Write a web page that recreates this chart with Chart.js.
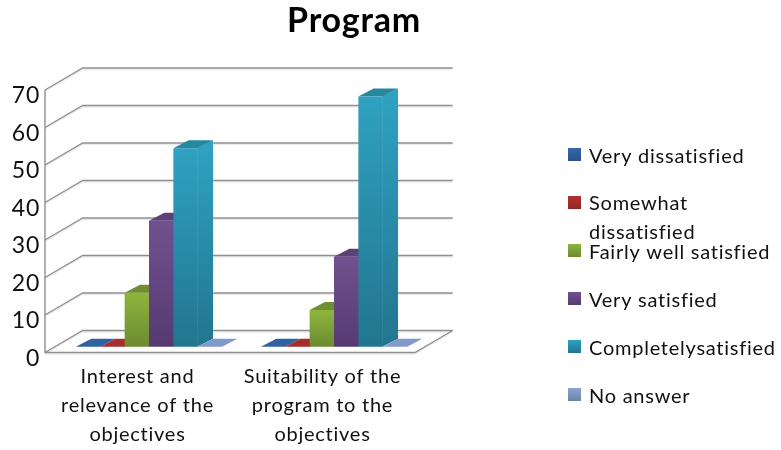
<!DOCTYPE html>
<html>
<head>
<meta charset="utf-8">
<style>
  html, body { margin: 0; padding: 0; background: #fff; }
  canvas { display: block; }
</style>
<script src="https://cdn.jsdelivr.net/npm/chart.js@4/dist/chart.umd.min.js"></script>
</head>
<body>
<canvas id="c" width="781" height="450"></canvas>
<script>
const categories = [
  ['Interest and', 'relevance of the', 'objectives'],
  ['Suitability of the', 'program to the', 'objectives']
];
const seriesNames = ['Very dissatisfied', 'Somewhat dissatisfied', 'Fairly well satisfied', 'Very satisfied', 'Completelysatisfied', 'No answer'];
const veryDissatisfied = [0, 0];
const somewhatDissatisfied = [0, 0];
const fairlyWellSatisfied = [14.4, 9.8];
const verySatisfied = [33.6, 24];
const completelySatisfied = [52.9, 66.7];
const noAnswer = [0, 0];
const yTicks = [0, 10, 20, 30, 40, 50, 60, 70];

const lightColors = ['#3568ab', '#b5312f', '#8fb53f', '#72508f', '#2fa1c1', '#8ba6d4'];
const darkColors = ['#2a5288', '#8f2725', '#6c8a30', '#553a72', '#22758f', '#6b82a8'];
const topColors = ['#2f62a0', '#a72d2b', '#708f33', '#5c4179', '#26889f', '#7f9acb'];

// plot is faked 3d: chart area = front plane, walls sit behind it
const wall = { dx: 37.7, dy: -22 };
const barShift = { x: 11.5, y: -5.8 };
const depth = { dx: 15.3, dy: -8 };

function vGradient(ctx, y0, y1, a, b) {
  const g = ctx.createLinearGradient(0, y0, 0, y1);
  g.addColorStop(0, a);
  g.addColorStop(1, b);
  return g;
}

function drawWalls(chart) {
  const { ctx, chartArea: a, scales } = chart;
  ctx.save();
  for (const pass of [{ c: '#ececec', o: 1.5 }, { c: '#8e8e8e', o: 0 }]) {
    ctx.strokeStyle = pass.c;
    ctx.lineWidth = 1.3;
    ctx.beginPath();
    yTicks.forEach(v => {
      const y = scales.y.getPixelForValue(v) + pass.o;
      ctx.moveTo(a.left, y);
      ctx.lineTo(a.left + wall.dx, y + wall.dy);
      ctx.lineTo(a.right + wall.dx, y + wall.dy);
    });
    // floor and front axis
    ctx.moveTo(a.left, a.top);
    ctx.lineTo(a.left, a.bottom + pass.o);
    ctx.lineTo(a.right, a.bottom + pass.o);
    ctx.lineTo(a.right + wall.dx, a.bottom + wall.dy + pass.o);
    ctx.stroke();
  }
  ctx.restore();
}

function drawBars(chart) {
  const ctx = chart.ctx;
  ctx.save();
  ctx.translate(barShift.x, barShift.y);
  chart.data.datasets.forEach((ds, i) => {
    chart.getDatasetMeta(i).data.forEach(bar => {
      const l = bar.x - bar.width / 2, r = bar.x + bar.width / 2;
      // side
      ctx.fillStyle = vGradient(ctx, bar.y, bar.base, lightColors[i], darkColors[i]);
      ctx.beginPath();
      ctx.moveTo(r - 0.5, bar.y);
      ctx.lineTo(r + depth.dx, bar.y + depth.dy);
      ctx.lineTo(r + depth.dx, bar.base + depth.dy);
      ctx.lineTo(r - 0.5, bar.base);
      ctx.closePath();
      ctx.fill();
      // top
      ctx.fillStyle = topColors[i];
      ctx.beginPath();
      ctx.moveTo(l, bar.y);
      ctx.lineTo(l + depth.dx, bar.y + depth.dy);
      ctx.lineTo(r + depth.dx, bar.y + depth.dy);
      ctx.lineTo(r, bar.y);
      ctx.closePath();
      ctx.fill();
      bar.draw(ctx);
    });
  });
  ctx.restore();
}

function drawLegend(chart) {
  const ctx = chart.ctx;
  ctx.save();
  ctx.font = '20px Lato';
  ctx.textBaseline = 'middle';
  seriesNames.forEach((name, i) => {
    const y = 155 + i * 48;
    ctx.fillStyle = vGradient(ctx, y - 7, y + 6, lightColors[i], darkColors[i]);
    ctx.fillRect(568, y - 7, 13, 13);
    ctx.fillStyle = '#111';
    if (name === 'Somewhat dissatisfied') {
      ctx.fillText('Somewhat', 589, y + 1);
      ctx.fillText('dissatisfied', 589, y + 30);
    } else {
      ctx.fillText(name, 589, y + 2);
    }
  });
  ctx.restore();
}

const fake3d = {
  id: 'fake3d',
  afterLayout(chart) {
    // title is centred over plot + gap, not over the canvas
    chart.titleBlock.left = 0;
    chart.titleBlock.right = 708;
  },
  beforeDraw(chart) {
    // reference text is set wide
    chart.ctx.letterSpacing = '0.75px';
  },
  beforeDatasetsDraw(chart) {
    drawWalls(chart);
    drawBars(chart);
    drawLegend(chart);
    return false;
  }
};

function makeDataset(label, data, i) {
  return {
    label,
    data,
    backgroundColor: c => {
      const s = c.chart.scales.y;
      if (!c.chart.chartArea || !c.parsed) return lightColors[i];
      return vGradient(c.chart.ctx, s.getPixelForValue(c.parsed.y), s.getPixelForValue(0), lightColors[i], darkColors[i]);
    }
  };
}

const seriesValues = [veryDissatisfied, somewhatDissatisfied, fairlyWellSatisfied, verySatisfied, completelySatisfied, noAnswer];

new Chart(document.getElementById('c').getContext('2d'), {
  type: 'bar',
  data: {
    labels: categories,
    datasets: seriesValues.map((v, i) => makeDataset(seriesNames[i], v, i))
  },
  options: {
    responsive: false,
    animation: false,
    categoryPercentage: 0.79,
    barPercentage: 1,
    layout: { padding: { right: 366, left: 0, top: 0, bottom: 0 } },
    plugins: {
      legend: { display: false },
      tooltip: { enabled: false },
      title: {
        display: true,
        text: 'Program',
        color: '#000',
        font: { family: 'Lato', size: 34, weight: 'bold', lineHeight: 1.2 },
        padding: { top: 1, bottom: 48.2 }
      }
    },
    scales: {
      x: {
        afterFit: s => { s.height = 97.5; },
        grid: { display: false },
        border: { display: false },
        ticks: { color: '#111', font: { family: 'Lato', size: 20, lineHeight: 1.47 }, padding: 1, maxRotation: 0 }
      },
      y: {
        min: 0,
        max: 70,
        afterFit: s => { s.width = 45; },
        afterBuildTicks: s => { s.ticks = yTicks.map(value => ({ value })); },
        grid: { display: false, drawTicks: false },
        border: { display: false },
        ticks: { color: '#111', font: { family: 'Lato', size: 23 }, padding: 5, labelOffset: 6 }
      }
    }
  },
  plugins: [fake3d]
});
</script>
</body>
</html>
